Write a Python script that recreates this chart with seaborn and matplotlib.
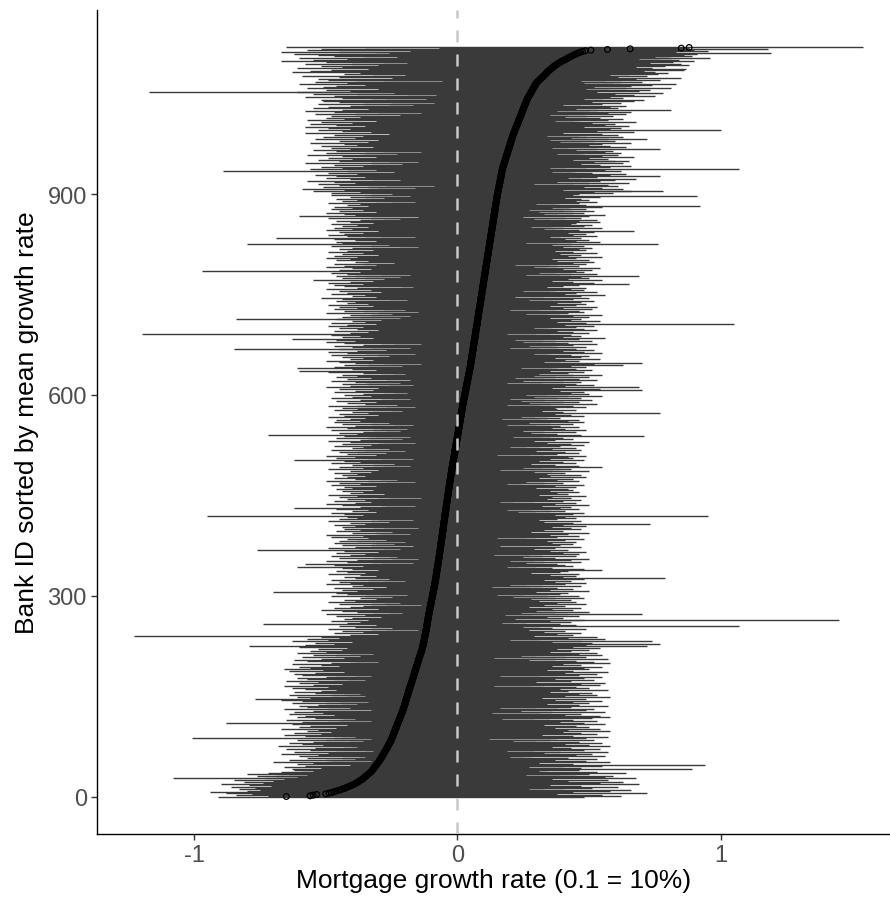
import numpy as np
import pandas as pd
import seaborn as sns
import matplotlib
matplotlib.use("Agg")
import matplotlib.pyplot as plt

# mean growth per bank, sorted (thousandths)
mean_permille = [
    -650, -560, -548, -535, -500, -488, -478, -470, -462, -452, -445, -438, -430, -424, -418, -412, -406, -400, -395, -390,
    -385, -381, -377, -373, -369, -365, -361, -358, -355, -352, -349, -346, -343, -340, -337, -334, -331, -328, -326, -324,
    -322, -320, -318, -316, -314, -312, -310, -308, -306, -305, -303, -301, -299, -297, -296, -294, -292, -291, -289, -288,
    -286, -285, -283, -282, -280, -279, -277, -276, -274, -273, -271, -270, -268, -267, -266, -264, -263, -262, -260, -259,
    -258, -256, -255, -254, -252, -251, -250, -249, -248, -247, -246, -245, -244, -243, -242, -241, -240, -239, -238, -237,
    -236, -235, -234, -233, -232, -231, -230, -229, -228, -227, -226, -225, -224, -223, -222, -221, -220, -219, -218, -217,
    -216, -215, -214, -213, -212, -211, -210, -209, -208, -207, -206, -205, -205, -204, -203, -202, -201, -200, -200, -199,
    -198, -197, -196, -196, -195, -194, -193, -193, -192, -191, -190, -190, -189, -188, -187, -187, -186, -185, -184, -184,
    -183, -182, -181, -180, -180, -179, -178, -177, -176, -175, -175, -174, -173, -172, -171, -171, -170, -169, -168, -167,
    -167, -166, -165, -164, -163, -163, -162, -161, -160, -159, -159, -158, -157, -156, -155, -155, -154, -153, -152, -151,
    -151, -150, -149, -148, -147, -147, -146, -145, -144, -143, -143, -142, -141, -140, -139, -139, -138, -137, -136, -135,
    -135, -134, -133, -133, -132, -131, -131, -130, -129, -129, -128, -128, -127, -127, -126, -126, -125, -125, -124, -124,
    -123, -123, -122, -122, -121, -121, -120, -120, -119, -119, -118, -118, -117, -117, -117, -116, -116, -115, -115, -114,
    -114, -114, -113, -113, -112, -112, -112, -111, -111, -110, -110, -109, -109, -108, -108, -107, -107, -106, -106, -105,
    -105, -104, -104, -103, -103, -102, -102, -101, -101, -100, -100, -99, -99, -98, -98, -97, -97, -96, -96, -95,
    -95, -94, -94, -93, -93, -92, -92, -91, -91, -90, -90, -89, -89, -88, -88, -87, -87, -86, -86, -85,
    -85, -85, -84, -84, -83, -83, -82, -82, -82, -81, -81, -80, -80, -80, -79, -79, -78, -78, -78, -77,
    -77, -76, -76, -76, -75, -75, -74, -74, -74, -73, -73, -72, -72, -72, -71, -71, -70, -70, -70, -69,
    -69, -68, -68, -68, -67, -67, -67, -66, -66, -65, -65, -65, -64, -64, -64, -63, -63, -63, -62, -62,
    -62, -61, -61, -60, -60, -60, -59, -59, -59, -58, -58, -58, -57, -57, -57, -56, -56, -55, -55, -55,
    -54, -54, -54, -53, -53, -53, -52, -52, -52, -51, -51, -50, -50, -50, -49, -49, -49, -48, -48, -48,
    -47, -47, -47, -46, -46, -45, -45, -45, -44, -44, -44, -43, -43, -43, -42, -42, -41, -41, -41, -40,
    -40, -40, -39, -39, -38, -38, -38, -37, -37, -37, -36, -36, -35, -35, -35, -34, -34, -34, -33, -33,
    -32, -32, -32, -31, -31, -31, -30, -30, -29, -29, -29, -28, -28, -28, -27, -27, -26, -26, -26, -25,
    -25, -24, -24, -24, -23, -23, -22, -22, -21, -21, -21, -20, -20, -19, -19, -18, -18, -18, -17, -17,
    -16, -16, -15, -15, -15, -14, -14, -13, -13, -12, -12, -12, -11, -11, -10, -10, -9, -9, -9, -8,
    -8, -7, -7, -6, -6, -6, -5, -5, -4, -4, -3, -3, -3, -2, -2, -1, -1, 0, 0, 1,
    1, 2, 2, 2, 3, 3, 4, 4, 5, 5, 5, 6, 6, 7, 7, 8, 8, 8, 9, 9,
    10, 10, 11, 11, 11, 12, 12, 13, 13, 14, 14, 14, 15, 15, 16, 16, 16, 17, 17, 18,
    18, 18, 19, 19, 20, 20, 21, 21, 22, 22, 23, 23, 24, 24, 25, 25, 26, 26, 27, 27,
    28, 28, 29, 29, 30, 30, 31, 31, 32, 32, 33, 33, 34, 34, 35, 35, 36, 36, 37, 37,
    38, 38, 39, 39, 40, 40, 41, 41, 42, 42, 43, 43, 44, 44, 45, 45, 46, 46, 47, 47,
    48, 48, 49, 49, 50, 50, 50, 51, 51, 52, 52, 52, 53, 53, 54, 54, 54, 55, 55, 56,
    56, 56, 57, 57, 58, 58, 58, 59, 59, 60, 60, 60, 61, 61, 62, 62, 62, 63, 63, 64,
    64, 64, 65, 65, 66, 66, 66, 67, 67, 68, 68, 68, 69, 69, 70, 70, 70, 71, 71, 72,
    72, 72, 73, 73, 74, 74, 74, 75, 75, 76, 76, 76, 77, 77, 78, 78, 78, 79, 79, 80,
    80, 80, 81, 81, 82, 82, 82, 83, 83, 84, 84, 84, 85, 85, 86, 86, 86, 87, 87, 88,
    88, 88, 89, 89, 90, 90, 90, 91, 91, 92, 92, 92, 93, 93, 94, 94, 94, 95, 95, 96,
    96, 96, 97, 97, 98, 98, 98, 99, 99, 100, 100, 100, 101, 101, 102, 102, 102, 103, 103, 104,
    104, 104, 105, 105, 106, 106, 106, 107, 107, 108, 108, 108, 109, 109, 110, 110, 110, 111, 111, 112,
    112, 112, 113, 113, 114, 114, 114, 115, 115, 116, 116, 116, 117, 117, 118, 118, 118, 119, 119, 120,
    120, 120, 121, 121, 122, 122, 122, 123, 123, 124, 124, 124, 125, 125, 126, 126, 126, 127, 127, 128,
    128, 128, 129, 129, 130, 130, 130, 131, 131, 132, 132, 132, 133, 133, 134, 134, 134, 135, 135, 136,
    136, 136, 137, 137, 138, 138, 138, 139, 139, 140, 140, 140, 141, 141, 142, 142, 142, 143, 143, 144,
    144, 144, 145, 145, 146, 146, 146, 147, 147, 148, 148, 148, 149, 149, 150, 150, 150, 151, 151, 152,
    152, 153, 153, 154, 154, 155, 155, 156, 156, 157, 157, 158, 158, 159, 159, 160, 160, 161, 161, 162,
    162, 163, 163, 164, 164, 165, 165, 166, 166, 167, 167, 168, 168, 169, 169, 170, 170, 171, 171, 172,
    173, 173, 174, 175, 176, 177, 177, 178, 179, 180, 181, 181, 182, 183, 184, 185, 185, 186, 187, 188,
    189, 189, 190, 191, 192, 193, 193, 194, 195, 196, 197, 197, 198, 199, 200, 201, 201, 202, 203, 204,
    205, 205, 206, 207, 208, 209, 209, 210, 211, 212, 213, 214, 215, 216, 217, 218, 219, 220, 221, 222,
    223, 224, 225, 226, 227, 228, 229, 230, 231, 232, 233, 234, 235, 236, 237, 238, 239, 240, 241, 242,
    243, 244, 245, 246, 247, 248, 249, 250, 251, 252, 253, 254, 255, 256, 257, 258, 259, 260, 261, 262,
    263, 264, 265, 266, 268, 269, 271, 272, 274, 275, 277, 278, 280, 281, 282, 284, 285, 287, 288, 290,
    291, 292, 294, 295, 297, 298, 300, 302, 305, 307, 310, 313, 315, 318, 321, 323, 326, 329, 331, 334,
    336, 338, 340, 343, 346, 349, 352, 355, 358, 361, 364, 367, 370, 374, 378, 382, 386, 390, 394, 398,
    406, 410, 414, 418, 423, 428, 433, 438, 443, 448, 454, 460, 467, 475, 485, 507, 570, 656, 850, 880,
]

# lowest growth per bank (hundredths)
low_pct = [
    -91, -72, -84, -66, -78, -88, -70, -94, -80, -69, -75, -83, -62, -77, -86, -71, -65, -79, -90, -68,
    -74, -63, -81, -70, -58, -85, -66, -108, -73, -61, -76, -69, -57, -80, -64, -72, -59, -67, -55, -62,
    -45, -63, -34, -52, -66, -38, -58, -41, -61, -36, -55, -48, -70, -33, -50, -64, -39, -57, -44, -35,
    -60, -37, -53, -67, -42, -49, -35, -62, -32, -56, -46, -65, -40, -54, -38, -68, -43, -51, -59, -34,
    -64, -41, -55, -36, -50, -61, -33, -47, -101, -39, -58, -44, -66, -37, -52, -62, -35, -48, -57, -40,
    -53, -67, -38, -46, -60, -34, -56, -42, -63, -36, -88, -49, -59, -33, -45, -65, -39, -54, -43, -61,
    -37, -58, -47, -64, -35, -51, -62, -40, -55, -33, -49, -66, -41, -57, -36, -60, -44, -53, -38, -63,
    -50, -34, -59, -45, -67, -77, -39, -56, -42, -61, -35, -48, -64, -37, -54, -43, -62, -33, -52, -46,
    -58, -36, -63, -41, -49, -66, -34, -55, -44, -60, -38, -53, -47, -65, -35, -57, -42, -61, -39, -50,
    -33, -59, -46, -62, -37, -54, -43, -64, -36, -51, -66, -40, -56, -34, -60, -45, -52, -38, -63, -41,
    -48, -30, -57, -39, -62, -34, -52, -43, -29, -59, -37, -55, -46, -32, -61, -41, -50, -28, -56, -44,
    -35, -53, -42, -60, -31, -79, -38, -58, -47, -33, -54, -40, -63, -29, -49, -36, -57, -45, -31, -52,
    -123, -22, -41, -30, -47, -18, -36, -27, -44, -15, -33, -49, -25, -39, -20, -45, -31, -74, -28, -42,
    -17, -37, -48, -24, -34, -43, -19, -40, -29, -46, -16, -35, -26, -50, -21, -38, -32, -44, -23, -52,
    -30, -47, -18, -41, -27, -36, -14, -45, -33, -22, -49, -28, -39, -20, -43, -31, -16, -37, -25, -48,
    -35, -19, -42, -29, -46, -24, -70, -38, -17, -44, -32, -21, -47, -27, -40, -15, -36, -50, -23, -41,
    -28, -45, -20, -34, -48, -26, -39, -18, -43, -31, -16, -37, -49, -24, -35, -42, -22, -46, -30, -19,
    -40, -27, -44, -61, -21, -36, -47, -58, -33, -17, -42, -29, -50, -25, -38, -15, -45, -32, -23, -48,
    -26, -41, -19, -35, -46, -30, -14, -43, -76, -37, -22, -49, -28, -39, -17, -44, -33, -24, -47, -31,
    -20, -38, -45, -27, -16, -42, -34, -48, -23, -36, -29, -50, -18, -40, -31, -25, -46, -21, -37, -43,
    -32, -15, -44, -28, -39, -22, -47, -35, -19, -41, -26, -49, -33, -17, -45, -30, -38, -24, -42, -95,
    -18, -36, -43, -25, -48, -31, -20, -40, -34, -46, -23, -62, -29, -37, -16, -44, -27, -50, -21, -39,
    -33, -47, -19, -35, -42, -26, -14, -45, -30, -38, -22, -49, -28, -41, -17, -36, -44, -24, -32, -46,
    -25, -40, -18, -43, -31, -48, -21, -37, -27, -45, -16, -34, -50, -23, -39, -29, -47, -20, -42, -35,
    -44, -19, -38, -26, -47, -33, -15, -41, -30, -49, -22, -36, -28, -45, -18, -40, -32, -24, -48, -37,
    -21, -43, -62, -34, -17, -46, -29, -39, -24, -50, -31, -14, -42, -27, -38, -45, -20, -35, -48, -26,
    -40, -23, -36, -47, -19, -33, -44, -28, -16, -41, -30, -49, -25, -37, -21, -46, -34, -18, -43, -31,
    -72, -38, -15, -45, -27, -36, -22, -48, -32, -19, -42, -29, -50, -24, -39, -17, -44, -33, -26, -47,
    -20, -37, -46, -28, -41, -16, -35, -49, -23, -43, -30, -18, -45, -34, -25, -40, -21, -47, -32, -38,
    -27, -44, -16, -38, -49, -23, -35, -14, -42, -31, -20, -46, -29, -37, -18, -48, -25, -40, -33, -15,
    -43, -28, -36, -19, -47, -24, -39, -32, -13, -45, -30, -21, -50, -26, -41, -17, -34, -44, -22, -39,
    -35, -48, -18, -42, -27, -33, -15, -46, -38, -24, -44, -20, -36, -29, -49, -16, -60, -31, -40, -25,
    -61, -37, -47, -21, -34, -43, -14, -39, -28, -45, -19, -50, -32, -23, -41, -36, -17, -44, -26, -48,
    -30, -16, -42, -35, -49, -22, -38, -27, -45, -85, -18, -40, -33, -47, -24, -36, -14, -43, -29, -50,
    -21, -39, -46, -26, -63, -32, -17, -44, -37, -28, -48, -120, -23, -41, -34, -15, -47, -30, -38, -20,
    -45, -27, -36, -49, -19, -42, -31, -24, -48, -35, -16, -40, -29, -46, -84, -22, -37, -44, -18, -33,
    -41, -25, -50, -30, -15, -43, -36, -20, -47, -28, -38, -17, -45, -32, -24, -49, -34, -21, -42, -39,
    -26, -46, -19, -37, -44, -52, -31, -14, -40, -35, -48, -23, -42, -29, -16, -45, -33, -27, -50, -21,
    -38, -17, -43, -30, -47, -25, -36, -49, -20, -41, -32, -15, -55, -28, -44, -35, -22, -46, -39, -18,
    -42, -29, -48, -23, -37, -97, -16, -45, -33, -40, -26, -50, -19, -43, -31, -36, -47, -24, -39, -14,
    -34, -46, -21, -41, -28, -50, -38, -17, -47, -30, -44, -25, -36, -49, -18, -42, -32, -27, -45, -22,
    -40, -15, -48, -33, -26, -80, -37, -44, -20, -46, -31, -39, -23, -47, -69, -35, -16, -42, -29, -49,
    -24, -43, -36, -18, -45, -30, -50, -27, -40, -21, -47, -34, -14, -44, -38, -25, -48, -32, -19, -41,
    -46, -28, -37, -22, -49, -33, -15, -60, -39, -26, -43, -20, -50, -31, -45, -24, -36, -48, -17, -40,
    -29, -47, -34, -19, -42, -37, -25, -49, -16, -44, -31, -38, -22, -46, -28, -41, -35, -18, -48, -33,
    -25, -48, -12, -37, -55, -20, -43, -30, -59, -16, -51, -34, -9, -45, -27, -53, -39, -14, -47, -32,
    -57, -22, -41, -11, -50, -35, -18, -46, -28, -54, -38, -13, -49, -24, -89, -42, -31, -56, -17, -44,
    -29, -52, -36, -10, -47, -21, -58, -33, -15, -45, -26, -53, -40, -19, -49, -31, -8, -44, -37, -57,
    -23, -50, -35, -14, -46, -28, -55, -41, -12, -48, -32, -20, -52, -38, -17, -43, -27, -56, -34, -11,
    -45, -30, -54, -21, -39, -15, -51, -36, -9, -47, -26, -58, -33, -18, -44, -29, -53, -41, -13, -49,
    -58, -35, -19, -46, -56, -24, -40, -12, -52, -31, -57, -16, -43, -28, -50, -37, -10, -48, -22, -54,
    -39, -14, -47, -30, -58, -20, -44, -34, -55, -11, -49, -26, -41, -17, -53, -36, -9, -45, -25, -51,
    -33, -52, -12, -44, -27, -58, -19, -47, -8, -38, -55, -24, -61, -117, -41, -15, -50, -30, -57, -21,
    -51, -11, -46, -35, -60, -18, -42, -28, -54, -6, -39, -49, -53, -25, -14, -45, -32, -59, -20, -43,
    -9, -37, -63, -26, -56, -16, -48, -34, -61, -22, -44, -13, -52, -30, -58, -40, -19, -50, -28, -67,
    -55, -10, -42, -36, -60, -23, -47, -15, -53, -31, -62, -26, -45, -67, -18, -57, -52, -35, -7, -65,
]

# highest growth per bank (hundredths)
high_pct = [
    48, 62, 25, 55, 38, 72, 44, 19, 58, 33, 66, 27, 51, 40, 61, 22, 47, 35, 69, 30,
    54, 17, 63, 42, 28, 57, 36, 68, 21, 56, 45, 59, 26, 50, 39, 64, 23, 53, 31, 46,
    34, 89, 18, 47, 27, 55, 40, 94, 15, 44, 31, 58, 22, 49, 37, 13, 53, 28, 42, 20,
    56, 25, 45, 16, 51, 33, 39, 57, 19, 48, 29, 54, 14, 43, 36, 58, 24, 50, 17, 41,
    55, 30, 46, 21, 52, 35, 12, 49, 38, 57, 23, 44, 32, 53, 18, 47, 40, 27, 58, 15,
    42, 54, 26, 37, 50, 19, 45, 33, 56, 22, 48, 14, 39, 53, 29, 44, 17, 51, 35, 58,
    54, 20, 41, 31, 47, 13, 56, 36, 24, 49, 38, 52, 16, 43, 30, 57, 21, 46, 34, 50,
    27, 44, 15, 55, 37, 23, 49, 32, 58, 19, 41, 53, 26, 46, 12, 51, 35, 42, 22, 57,
    39, 18, 50, 28, 45, 14, 54, 33, 47, 24, 56, 30, 43, 17, 52, 37, 21, 48, 31, 55,
    16, 46, 38, 53, 25, 41, 57, 20, 44, 34, 50, 13, 48, 29, 55, 36, 22, 47, 40, 58,
    32, 52, 19, 45, 27, 57, 37, 14, 49, 41, 24, 55, 30, 46, 17, 53, 35, 43, 21, 50,
    38, 15, 54, 28, 44, 72, 33, 49, 77, 25, 51, 36, 47, 74, 20, 56, 31, 42, 18, 53,
    29, 44, 16, 38, 23, 47, 33, 19, 41, 27, 49, 14, 36, 25, 107, 31, 45, 21, 39, 17,
    43, 26, 35, 145, 48, 22, 40, 15, 34, 46, 28, 18, 42, 70, 24, 37, 50, 30, 13, 44,
    36, 20, 47, 27, 41, 16, 33, 49, 23, 38, 14, 45, 31, 19, 43, 28, 37, 48, 21, 34,
    46, 15, 39, 25, 42, 30, 17, 50, 35, 22, 44, 27, 38, 13, 47, 32, 20, 41, 26, 49,
    18, 37, 43, 24, 33, 48, 79, 29, 40, 16, 45, 35, 21, 46, 28, 39, 14, 42, 55, 31,
    48, 23, 36, 19, 44, 30, 41, 15, 38, 26, 47, 33, 20, 43, 29, 50, 17, 37, 25, 45,
    32, 14, 46, 27, 40, 21, 49, 35, 18, 42, 29, 37, 24, 47, 16, 39, 31, 44, 22, 36,
    45, 19, 34, 41, 26, 48, 15, 38, 30, 46, 23, 35, 42, 17, 50, 28, 40, 21, 33, 47,
    25, 43, 18, 36, 49, 29, 40, 73, 16, 44, 33, 22, 47, 31, 38, 20, 45, 27, 41, 95,
    37, 17, 44, 30, 48, 23, 35, 41, 19, 46, 28, 39, 14, 43, 32, 50, 24, 37, 21, 45,
    16, 40, 29, 47, 34, 21, 43, 36, 18, 49, 31, 25, 42, 15, 38, 46, 27, 35, 44, 20,
    42, 30, 15, 45, 37, 24, 48, 19, 33, 40, 26, 46, 22, 38, 13, 44, 31, 49, 28, 35,
    23, 47, 34, 18, 41, 29, 50, 36, 16, 43, 39, 25, 55, 32, 46, 20, 37, 28, 45, 17,
    40, 31, 48, 22, 35, 44, 19, 42, 27, 49, 15, 38, 33, 46, 24, 41, 30, 18, 47, 36,
    26, 45, 20, 39, 31, 48, 17, 43, 34, 23, 50, 29, 37, 14, 44, 32, 40, 21, 71, 35,
    47, 18, 38, 28, 45, 33, 25, 49, 16, 41, 36, 22, 46, 30, 39, 19, 44, 35, 27, 48,
    20, 42, 31, 46, 17, 39, 34, 24, 48, 29, 43, 15, 37, 77, 26, 40, 32, 45, 21, 38,
    37, 22, 49, 31, 44, 19, 53, 35, 27, 46, 40, 24, 51, 33, 20, 47, 38, 29, 55, 42,
    26, 50, 34, 43, 21, 48, 39, 70, 30, 54, 36, 23, 69, 41, 28, 52, 45, 32, 19, 47,
    40, 25, 53, 33, 46, 22, 50, 37, 29, 44, 55, 31, 42, 20, 48, 35, 27, 51, 38, 45,
    24, 49, 36, 43, 63, 28, 52, 39, 70, 33, 46, 21, 41, 54, 30, 37, 47, 26, 50, 35,
    43, 29, 55, 34, 48, 23, 40, 52, 31, 45, 20, 38, 49, 27, 44, 36, 53, 32, 42, 25,
    51, 37, 22, 46, 33, 56, 40, 28, 47, 35, 43, 19, 50, 30, 44, 38, 25, 53, 34, 48,
    29, 45, 36, 52, 24, 41, 105, 32, 49, 38, 27, 54, 43, 21, 47, 35, 50, 30, 44, 39,
    55, 26, 42, 34, 48, 31, 46, 20, 51, 37, 40, 28, 53, 35, 45, 23, 49, 38, 32, 47,
    36, 52, 27, 44, 39, 50, 22, 47, 33, 56, 41, 29, 45, 35, 53, 25, 48, 37, 43, 31,
    49, 34, 40, 24, 46, 65, 38, 52, 30, 44, 36, 55, 28, 42, 50, 33, 47, 69, 39, 26,
    43, 53, 31, 48, 37, 45, 25, 51, 40, 34, 54, 29, 46, 38, 22, 49, 35, 44, 30, 52,
    38, 27, 50, 36, 45, 31, 55, 42, 24, 47, 39, 33, 53, 28, 44, 37, 49, 22, 46, 35,
    51, 40, 30, 48, 36, 76, 43, 26, 54, 38, 45, 32, 50, 41, 29, 47, 35, 53, 39, 44,
    31, 49, 42, 27, 52, 67, 37, 46, 33, 55, 40, 28, 48, 36, 51, 43, 30, 45, 39, 54,
    46, 35, 53, 29, 47, 41, 25, 50, 38, 56, 33, 44, 48, 31, 52, 40, 27, 49, 43, 36,
    42, 55, 92, 37, 49, 30, 46, 39, 53, 34, 45, 50, 28, 47, 41, 36, 54, 91, 44, 38,
    46, 59, 33, 52, 66, 78, 40, 63, 31, 55, 48, 36, 61, 44, 57, 29, 65, 50, 38, 54,
    34, 60, 47, 68, 42, 53, 30, 77, 58, 39, 64, 45, 51, 36, 62, 43, 56, 107, 49, 35,
    58, 41, 66, 32, 54, 47, 63, 37, 52, 60, 65, 44, 57, 31, 50, 67, 40, 55, 46, 61,
    38, 62, 48, 56, 33, 59, 45, 77, 53, 36, 64, 42, 58, 50, 30, 55, 47, 66, 39, 52,
    60, 35, 57, 72, 43, 63, 49, 34, 61, 46, 55, 40, 67, 32, 53, 100, 44, 58, 37, 62,
    48, 65, 39, 56, 33, 60, 51, 44, 68, 37, 57, 46, 63, 30, 54, 41, 59, 49, 35, 64,
    42, 57, 50, 66, 38, 53, 81, 45, 61, 34, 58, 47, 64, 40, 55, 32, 62, 51, 43, 67,
    55, 71, 48, 63, 44, 58, 75, 50, 67, 42, 60, 78, 53, 46, 69, 57, 73, 49, 64, 81,
    52, 66, 45, 74, 59, 83, 48, 70, 62, 47, 77, 56, 68, 51, 85, 61, 44, 72, 58, 76,
    65, 80, 75, 54, 71, 63, 86, 87, 57, 74, 68, 79, 60, 88, 66, 85, 73, 82, 70, 90,
    77, 84, 69, 96, 81, 75, 89, 80, 86, 72, 91, 119, 78, 83, 95, 90, 118, 85, 88, 154,
]

n = min(len(mean_permille), len(low_pct), len(high_pct))
df = pd.DataFrame({
    "bank": np.arange(n),
    "mean": np.array(mean_permille[:n]) / 1000,
    "low": np.array(low_pct[:n]) / 100,
    "high": np.array(high_pct[:n]) / 100,
})

sns.set_style("white")
plt.rcParams["font.family"] = ["Liberation Sans", "DejaVu Sans"]

fig = plt.figure(figsize=(8.9, 9.03), dpi=100)
ax = fig.add_axes([96.5 / 890, 68 / 903, 793.5 / 890, 824 / 903])

# min-max range of each bank
ax.hlines(df["bank"], df["low"], df["high"], colors="#3a3a3a", linewidth=1.0, zorder=1)

# mean of each bank, open circles
sns.scatterplot(x="mean", y="bank", data=df, ax=ax, s=17, marker="o", zorder=2)
pts = ax.collections[-1]
pts.set_facecolor("none")
pts.set_edgecolor("black")
pts.set_linewidth(0.9)

ax.axvline(0, color="#c8c8c8", linewidth=1.8, dashes=(4.8, 4.8), zorder=3)

ax.set_xlim(-1.371, 1.643)
ax.set_ylim(-56, 1175)
ax.set_xticks([-1, 0, 1])
ax.set_xticklabels(["-1", "0", "1"])
ax.set_yticks([0, 300, 600, 900])

for side in ["top", "right"]:
    ax.spines[side].set_visible(False)
for side in ["left", "bottom"]:
    ax.spines[side].set_color("black")
    ax.spines[side].set_linewidth(1.0)

ax.tick_params(axis="both", length=4, width=1.0, color="#333333",
               labelsize=17, labelcolor="#4d4d4d", pad=3, left=True, bottom=True)
ax.set_xlabel("Mortgage growth rate (0.1 = 10%)", fontsize=19, color="black", labelpad=2)
ax.set_ylabel("Bank ID sorted by mean growth rate", fontsize=19, color="black", labelpad=6)

plt.savefig("out.png", dpi=100)
